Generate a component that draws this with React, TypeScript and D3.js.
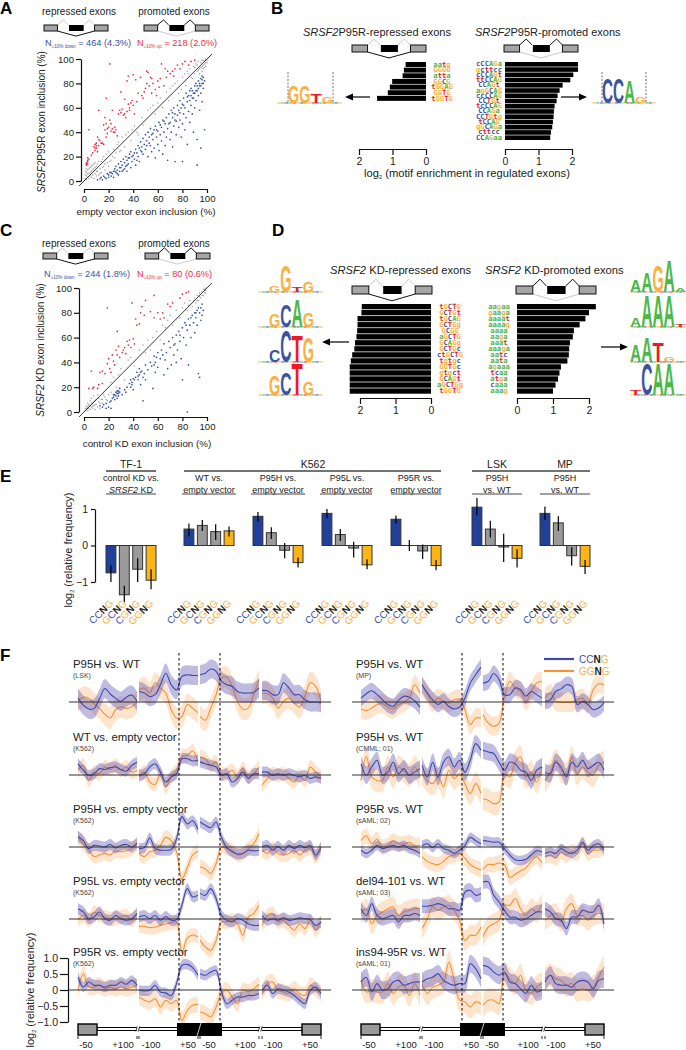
import React, { useEffect, useRef } from 'react';
import * as d3 from 'd3';

const FONT = '"Liberation Sans", Arial, sans-serif';
const BLUE = '#3953a4';
const NAVY = '#21409a';
const AMBER = '#fbb040';
const RED_TXT = '#ed1c24';
const GREEN = '#4cb848';

// ---- panel A scatter, [empty vector %, P95R %]
const aRed = [[2,13],[2,15],[3,14],[3,17],[3,19],[4,18],[4,42],[6,21],[7,23],[8,28],[9,25],[9,30],[10,31],[10,27],[11,24],[12,34],[11,36],[12,29],[13,33],[15,31],[16,30],[16,46],[17,42],[17,52],[18,36],[18,47],[19,39],[20,44],[21,50],[22,47],[23,58],[23,43],[24,40],[25,44],[26,42],[27,37],[12,58],[21,96],[28,55],[30,56],[31,59],[32,54],[33,67],[34,52],[35,57],[36,63],[37,58],[38,64],[39,66],[40,62],[41,55],[43,65],[35,82],[36,86],[40,87],[42,83],[46,85],[47,70],[48,68],[49,73],[50,76],[51,90],[52,89],[53,78],[54,85],[55,72],[56,80],[58,75],[60,82],[61,77],[62,84],[63,96],[65,78],[67,85],[68,90],[70,88],[72,90],[74,92],[78,92],[80,96],[82,98],[85,95],[87,98],[90,99],[30,73],[18,68],[2,14],[3,16],[9,27],[10,29],[14,31],[19,43],[22,41],[25,40],[29,58],[33,55],[37,60],[44,72],[51,80],[55,84],[59,70],[66,92],[73,86],[76,95]];
const aBlue = [[11,1],[13,2],[14,3],[15,1],[16,4],[17,3],[18,2],[19,6],[20,5],[20,3],[21,7],[22,4],[23,6],[24,3],[24,8],[25,10],[26,7],[26,12],[27,9],[28,14],[28,5],[29,8],[30,11],[30,16],[31,13],[32,9],[32,18],[33,15],[34,12],[34,20],[35,17],[35,8],[36,14],[37,22],[37,19],[38,11],[38,24],[39,16],[40,21],[41,18],[42,26],[42,13],[43,23],[44,29],[44,20],[45,16],[46,25],[46,32],[47,28],[48,22],[48,35],[49,30],[50,26],[50,38],[51,33],[52,20],[52,40],[53,36],[54,29],[54,43],[55,24],[55,38],[56,34],[57,42],[57,27],[58,45],[58,19],[59,36],[60,41],[60,30],[61,48],[61,25],[62,38],[63,44],[63,33],[64,50],[64,22],[65,40],[66,47],[66,29],[67,52],[67,36],[68,43],[68,17],[69,55],[70,48],[70,34],[71,40],[71,58],[72,52],[72,28],[73,45],[73,60],[74,55],[74,16],[75,49],[75,38],[76,62],[76,54],[77,44],[77,58],[78,66],[78,50],[79,36],[79,60],[80,63],[80,16],[80,47],[81,55],[81,68],[82,60],[82,42],[83,72],[83,52],[84,65],[84,30],[85,70],[85,57],[86,74],[86,48],[87,62],[87,76],[88,68],[88,55],[89,72],[89,40],[90,78],[90,60],[91,66],[91,80],[92,74],[92,34],[92,13],[93,70],[93,82],[94,78],[94,58],[95,84],[95,72],[95,27],[96,80],[96,65],[97,85],[97,76],[98,82],[98,42],[96,86],[22,7],[25,8],[27,6],[29,11],[31,8],[33,10],[35,13],[36,19],[39,20],[41,23],[43,17],[45,27],[47,24],[51,29],[53,31],[56,39],[59,42],[62,46],[65,49],[69,47],[72,56],[74,50],[78,56],[81,62],[84,69],[86,66],[88,74],[90,72],[92,78],[94,80],[95,78],[96,83],[97,80],[93,76],[91,74],[89,68],[87,70]];
const aGrey = [[1,2],[1,5],[2,1],[2,4],[2,7],[3,3],[3,9],[4,2],[4,6],[5,4],[5,11],[6,3],[6,8],[7,5],[7,13],[8,2],[8,10],[9,6],[9,15],[10,4],[10,12],[11,8],[12,5],[12,16],[13,10],[14,7],[15,18],[16,12],[17,9],[18,22],[19,15],[20,12],[22,17],[24,26],[25,19],[27,30],[29,24],[31,36],[33,28],[36,40],[38,33],[41,45],[44,38],[47,52],[52,58],[56,62],[60,64],[64,60],[67,73],[70,76],[74,80],[77,72],[80,85],[83,78],[84,90],[86,92],[88,84],[89,94],[90,88],[91,96],[92,90],[93,98],[94,92],[95,97],[96,94],[97,99],[97,92],[98,96],[98,98],[99,97],[99,100],[99,94],[100,99],[94,88],[96,90],[1,8],[2,10],[3,6],[4,10],[5,7],[6,12],[7,9],[8,14],[9,11],[10,8],[11,14],[13,6],[14,16],[15,11],[16,20],[17,14],[20,24],[21,16],[23,20],[26,23],[28,32],[30,25],[34,38],[39,42],[43,40],[48,46],[54,60],[58,55],[62,68],[69,66],[72,78],[76,82],[79,75],[82,88],[85,88],[87,85],[90,93],[92,95],[93,91],[95,93],[96,99],[97,95],[98,93],[99,99],[100,97]];

// ---- panel C scatter, [control KD %, SRSF2 KD %]
const cRed = [[4,19],[6,33],[7,19],[8,20],[11,19],[12,22],[13,32],[15,33],[15,23],[17,31],[19,84],[19,39],[20,43],[21,35],[22,32],[23,46],[24,41],[25,38],[26,50],[27,65],[27,46],[28,53],[29,44],[31,48],[32,50],[33,52],[34,47],[35,57],[36,54],[37,58],[38,52],[39,88],[40,59],[41,55],[42,75],[43,70],[45,71],[46,80],[47,85],[49,78],[50,90],[54,81],[57,94],[57,76],[60,80],[62,75],[64,80],[65,76],[68,87],[70,85],[72,88],[78,92],[80,95],[83,96],[85,97]];
const cBlue = [[13,5],[15,4],[16,6],[18,3],[18,7],[20,4],[21,8],[22,9],[22,3],[23,11],[24,12],[25,10],[25,14],[26,13],[27,15],[27,11],[28,17],[28,13],[29,16],[29,19],[31,14],[33,18],[34,16],[35,20],[37,23],[38,20],[38,26],[39,24],[40,18],[40,27],[42,28],[43,32],[44,26],[45,35],[45,30],[46,22],[47,33],[48,9],[49,31],[50,38],[50,26],[52,34],[54,40],[55,37],[56,19],[57,45],[58,32],[58,40],[60,48],[60,36],[62,43],[63,50],[65,30],[65,55],[66,42],[67,48],[68,35],[69,57],[70,52],[71,38],[72,60],[73,46],[74,55],[75,40],[75,62],[76,50],[77,65],[78,57],[79,43],[80,68],[80,26],[81,60],[82,72],[83,54],[84,0],[84,66],[85,75],[85,38],[86,70],[87,60],[88,78],[89,72],[90,80],[90,64],[91,76],[92,82],[92,70],[93,31],[94,80],[94,28],[95,84],[95,74],[96,87],[96,78],[97,82],[24,14],[26,16],[27,17],[28,15],[39,22],[41,26],[44,29],[46,32],[48,28],[57,38],[59,44],[64,46],[73,54],[78,62],[83,70],[87,76],[91,80],[93,84]];
const cGrey = [[1,1],[1,3],[2,2],[2,5],[3,1],[3,4],[3,7],[4,3],[4,6],[5,2],[5,9],[6,4],[6,11],[7,3],[7,7],[8,5],[8,13],[9,2],[9,9],[10,6],[11,4],[11,14],[12,8],[13,3],[14,10],[15,7],[17,12],[19,9],[22,16],[24,28],[26,20],[30,35],[33,26],[36,42],[41,37],[45,50],[50,48],[52,58],[56,60],[59,65],[62,58],[64,70],[68,74],[72,70],[75,82],[78,76],[82,88],[84,82],[86,90],[88,85],[90,92],[91,88],[92,94],[93,90],[94,96],[95,92],[96,97],[97,94],[97,99],[98,96],[99,98],[99,100],[2,3],[3,3],[4,5],[5,5],[6,7],[7,5],[8,8],[9,6],[10,10],[12,11],[13,7],[15,10],[16,14],[18,10],[20,14],[22,24],[28,30],[38,44],[48,54],[54,50],[66,68],[70,78],[80,84],[85,86],[89,90],[92,90],[94,93],[96,94],[98,99],[99,96]];

// ---- motif enrichment bars
const bRepMotifs = ['aatg','GGGG','atta','GGCG','tGGAG','GGTG','tGGTG'];
const bRepVals = [0.61,0.66,0.7,1.01,1.08,1.14,1.46];
const bProMotifs = ['cCCAGa','gcttcc','cCCAGt','ttCCAG','CCAGt','agGCAG','ccCCAG','CCTGt','tcCCAG','CCAGa','CCTGtg','tCCAG','gGCAGa','cttcc','CCAGaa'];
const bProVals = [2.18,2.18,2.04,1.95,1.72,1.63,1.57,1.54,1.48,1.46,1.45,1.43,1.41,1.37,1.35];
const dRepMotifs = ['tGCTG','GCTGt','tGCAG','GCTGg','GCGG','aGCTG','GCAGg','GCTGc','ctGCTG','tgtgc','GGTGc','gtgct','GCAGt','aGCTGg','tGGTG'];
const dRepVals = [1.95,1.96,2.07,2.07,2.08,2.1,2.14,2.16,2.22,2.26,2.29,2.29,2.29,2.29,2.29];
const dProMotifs = ['aagaa','gaaga','aaaat','aaaag','aaaa','aaga','aaat','aaaga','aatc','aata','agaaa','tcaa','atga','caaa','aaag'];
const dProVals = [2.19,2.0,1.9,1.74,1.58,1.55,1.47,1.45,1.44,1.4,1.22,1.18,1.14,1.07,1.0];

// ---- sequence logos: [letter, height in px]
const logoBRep = [['G',17],['G',17],['T',9],['G',6]];
const logoBPro = [['C',25],['C',25],['A',22],['G',6]];
const logosDRep = [
  [['G',7],['G',26],['T',5],['G',10]],
  [['G',13],['C',23],['A',28],['G',15]],
  [['C',12],['C',32],['T',27],['G',25]],
  [['G',20],['C',23],['T',32],['G',13]],
];
const logosDPro = [
  [['A',12],['A',20],['G',27],['A',32],['A',4]],
  [['A',9],['A',32],['A',32],['A',32],['T',3]],
  [['A',17],['A',25],['T',20],['G',5],['A',1]],
  [['T',5],['C',32],['A',32],['A',32],['A',1]],
];
const flankLetters = 'gacatgcagtcatgacg';

// ---- panel E bars
const eLabels = ['CCNG','GCNG','CGNG','GGNG'];
const tf1Vals = [-0.75,-1.35,-0.65,-0.95];
const tf1Err = [[-0.55,-1.0],[-1.1,-1.55],[-0.35,-1.0],[-0.65,-1.2]];
const wtVals = [0.45,0.55,0.38,0.4];
const wtErr = [[0.25,0.6],[0.4,0.7],[0.15,0.58],[0.25,0.52]];
const p95hVals = [0.8,0.35,-0.13,-0.47];
const p95hErr = [[0.65,0.92],[0.18,0.5],[0.07,-0.35],[-0.33,-0.6]];
const p95lVals = [0.88,0.3,-0.07,-0.53];
const p95lErr = [[0.75,1.0],[0.12,0.45],[0.1,-0.33],[-0.38,-0.65]];
const p95rVals = [0.72,0.0,-0.15,-0.55];
const p95rErr = [[0.82,0.6],[0.15,-0.15],[0.03,-0.37],[-0.4,-0.68]];
const lskVals = [1.05,0.45,-0.04,-0.35];
const lskErr = [[1.3,0.83],[0.68,0.22],[0.32,-0.45],[-0.1,-0.6]];
const mpVals = [0.88,0.62,-0.28,-0.57];
const mpErr = [[1.07,0.7],[0.8,0.4],[-0.05,-0.55],[-0.4,-0.78]];

// ---- panel F traces, 12 readings per segment, 4 segments
const f1C = [.12,-.1,-.22,-.2,.1,.42,.25,.12,.02,.15,.22,.02, .33,.28,.17,.23,.54,.9,.54,.38,.8,.85,.83,.83, .85,.9,1.03,.96,.65,.54,.49,.33,.28,.28,.3,.44, .36,.35,.23,.23,.6,.44,.23,.23,.07,0,0,-.03];
const f1G = [.02,.15,.12,-.05,-.2,-.38,-.5,-.25,-.15,-.2,-.15,-.02, .38,.44,.28,.6,.44,.28,-.24,-.5,-.45,-.08,-.19,-.34, -.45,-.57,-.19,.23,.75,.77,.49,.02,-.22,-.19,.23,.7, .28,.26,.12,-.19,.02,.12,-.03,-.16,.18,.6,.49,.02];
const f2C = [.35,.15,-.01,.04,.2,.17,.23,.25,.17,.12,.3,.4, -.01,.04,.25,.35,.09,-.22,-.06,.04,.51,.51,.44,.46, .41,.35,.3,.25,-.01,.04,-.22,-.11,.09,-.11,.04,.04, .09,.09,-.01,.04,-.01,.04,-.01,-.06,-.01,-.11,-.06,-.11];
const f2G = [.15,.3,-.17,.09,.04,.25,.17,.3,.15,.25,.09,.15, -.06,.09,-.22,-.29,.04,-.37,-.06,.15,.58,.61,.75,.41, .56,.51,.3,.41,.04,.04,.15,-.06,.2,-.06,.04,.25, -.32,-.11,.04,-.01,.04,-.11,-.22,-.01,-.17,.25,.09,-.06];
const f3C = [.33,.2,-.05,.05,.03,0,.08,-.03,.05,.08,0,.12, -.05,-.02,.28,-.05,-.1,-.1,-.08,.25,.95,.72,.82,.55, .78,.68,.6,.78,.3,-.02,-.15,-.22,-.2,-.1,-.12,-.1, 0,.05,-.1,.02,-.1,.05,-.05,.05,-.02,.05,-.25,0];
const f3G = [.3,.1,-.1,-.3,-.25,-.2,-.25,-.12,-.15,-.12,-.05,.1, -.2,-.3,-.15,-.1,.05,.3,.2,-.15,-1.0,-.65,-.25,-.13, -.62,-.68,-.83,-.52,0,-.05,-.1,-.25,-.2,-.05,.1,.42, -.1,-.2,-.05,-.2,-.25,-.2,-.1,-.25,-.1,-.05,-.3,-.05];
const f4C = [.32,.22,.01,.06,.22,.01,-.04,.11,.01,-.04,.01,.17, .06,.11,.01,.11,-.04,.08,-.04,-.02,.43,.95,.69,.74, .8,.74,.95,.64,.11,-.04,-.09,.01,-.04,-.15,-.2,-.2, .11,-.04,.01,-.04,.04,-.04,-.02,.04,.01,-.02,-.2,-.09];
const f4G = [-.02,.11,-.04,.22,.11,.06,.01,.01,.06,.11,-.04,.17, -.23,-.23,-.27,-.25,-.2,-.15,-.12,-.1,-1.05,-.6,-.5,-.56, -.67,-.87,-.98,-.67,-.09,-.09,-.04,-.15,-.51,.06,.17,.43, -.2,.11,.17,-.09,-.04,-.2,-.35,-.15,-.3,-.04,-.35,-.09];
const f5C = [.4,.09,.25,.15,.15,.09,.15,.15,.25,.18,.3,.15, -.01,-.03,-.01,.15,-.06,-.09,-.17,.2,.77,.8,.7,.46, .51,.46,.56,.61,-.06,-.43,-.32,-.22,-.22,-.17,-.17,-.11, -.01,.15,-.11,.04,-.01,-.06,-.17,-.32,-.43,-.01,.09,-.11];
const f5G = [-.01,.51,.09,.09,.15,.04,.09,.04,.09,.04,.09,.15, -.22,-.32,-.37,-.27,-.53,-.32,-.43,-.32,-.95,-.64,-.48,-.45, -.69,-.74,-.84,-.53,-.11,-.01,-.22,-.43,-.01,-.06,.04,.18, -.11,.2,.25,-.01,-.06,-.11,.04,-.11,-.17,.15,.04,-.11];
const f6C = [.12,.26,.35,.23,.07,-.08,-.14,.05,.18,.15,.04,-.16, .54,.28,.07,-.08,.02,-.14,-.22,-.16,.12,.59,.85,1.09, .59,.65,.89,.7,.23,.23,.44,.39,.18,.33,.23,.12, .02,.07,.33,.41,.54,.49,-.08,.02,-.08,-.24,-.19,-.03];
const f6G = [-.22,-.27,-.19,-.08,-.05,-.16,-.22,-.08,-.01,.12,.54,.28, .54,.23,-.01,.12,.02,-.03,.07,.09,-.24,-.71,-.5,-.5, -.4,-.66,-.76,-.66,.18,.65,.44,.33,.02,.33,.59,.65, .12,.28,.02,-.01,-.01,-.01,.07,.12,-.08,.39,.57,.54];
const f7C = [.35,-.01,.25,.46,-.01,.09,.4,.04,.2,-.01,.09,.2, .3,-.06,.4,-.06,.4,.56,.25,.46,.09,.46,.98,.77, .77,.72,.67,.4,.15,.4,.35,.15,.09,-.17,.15,.25, .09,.04,.4,.25,-.06,.4,.25,.46,.2,.3,.4,.15];
const f7G = [-.17,.58,-.06,-.17,-.17,.25,-.06,.25,.12,-.01,.25,-.06, .04,-.17,-.27,-.06,-.37,.15,-.11,.04,-.27,-.58,-.27,-.58, -.74,-.79,-.9,-.84,.04,-.06,.4,.56,-.06,.09,-.22,.25, -.17,.09,.46,.15,.04,.56,.04,.25,.09,-.01,.3,.4];
const f8C = [-.1,-.2,-.1,.05,-.05,0,.05,0,.05,-.05,-.1,-.2, .05,.1,-.02,.1,-.05,-.1,-.2,-.1,.05,.3,.2,.1, .2,.18,.15,.15,-.05,-.25,-.4,-.42,-.38,-.25,-.12,-.15, -.2,-.15,-.2,-.05,-.15,-.2,-.1,.15,-.1,.05,.1,-.1];
const f8G = [.2,.35,.1,.25,0,.05,.2,.1,.1,.15,.05,.05, -.3,-.45,-.52,-.55,-.45,-.3,-.25,-.2,-.35,-.55,-.65,-.72, -.7,-.55,-.55,-.5,-.55,-.95,-.85,-.75,-.65,-.45,-.3,-.5, -.3,-.25,-.35,-.15,-.25,-.15,-.2,.1,-.2,-.1,-.1,0];
const f9C = [.32,.11,.48,.11,.01,.06,.11,-.09,.11,.11,.17,.11, .4,.4,.43,.48,.43,.32,.32,.27,.84,.9,.74,.79, 1.16,1.16,.74,.53,.27,.06,.06,-.04,.01,.11,.22,.22, .32,.22,.01,-.04,-.3,.06,.06,.27,.22,.22,.43,-.15];
const f9G = [.17,.32,-.15,.11,.22,.32,.38,.11,.22,.27,.32,.32, -.3,.01,.38,.27,.38,.43,.27,-.04,-.67,-.51,-.51,-.25, -.56,-.25,-.15,-.04,.43,.43,.64,.32,.11,.32,.22,.48, -.04,.11,.17,-.09,.32,.48,.11,.11,-.04,.11,.17,.17];
const f10C = [.25,.4,-.06,.2,-.01,.04,.25,.3,.15,.2,.25,.25, .25,.35,.4,.51,.3,.2,.15,.2,.2,.82,.67,.35, .77,.72,.56,.46,.56,.25,.2,.04,-.11,.15,-.06,-.01, .25,.46,.2,.15,.15,.09,.25,.3,.25,.04,.3,.35];
const f10G = [.3,-.06,-.01,-.06,-.06,.2,-.11,.09,.15,-.17,.2,-.17, .2,-.11,.09,.15,.25,.87,.3,-.32,-.37,-.53,-.37,-.43, -.48,-.32,-.32,-.43,.51,.35,.2,.46,-.01,-.11,.09,.2, .35,.46,.35,.3,.15,.2,-.01,.04,-.01,.09,.4,.72];

const fTitles = ['P95H vs. WT','WT vs. empty vector','P95H vs. empty vector','P95L vs. empty vector','P95R vs. empty vector','P95H vs. WT','P95H vs. WT','P95R vs. WT','del94-101 vs. WT','ins94-95R vs. WT'];
const fSubs = ['(LSK)','(K562)','(K562)','(K562)','(K562)','(MP)','(CMML; 01)','(sAML; 02)','(sAML; 03)','(sAML; 01)'];
const fCcng = [f1C,f2C,f3C,f4C,f5C,f6C,f7C,f8C,f9C,f10C];
const fGgng = [f1G,f2G,f3G,f4G,f5G,f6G,f7G,f8G,f9G,f10G];
const fCcngBand = [.3,.17,.17,.17,.16,.25,.27,.15,.22,.28];
const fGgngBand = [.34,.22,.22,.22,.25,.3,.36,.24,.32,.36];
const fTicks = ['-50','+100','-100','+50','-50','+100','-100','+50'];
const fYTicks = [-1,-0.5,0,0.5,1];

const letterColor = (c: string) => {
  const u = c.toUpperCase();
  if (u === 'A') return GREEN;
  if (u === 'C') return BLUE;
  if (u === 'G') return AMBER;
  return RED_TXT;
};

type Part = { t: string; italic?: boolean; fill?: string; sub?: boolean; bold?: boolean };

// text with mixed styling, subscripts are done with dy on the tspans
const rich = (g: any, x: number, y: number, parts: Part[], size: number, anchor = 'start', rotate = 0, fill = '#222') => {
  const txt = g.append('text')
    .attr('text-anchor', anchor).attr('font-size', size).attr('font-family', FONT).attr('fill', fill);
  if (rotate) txt.attr('transform', `translate(${x},${y}) rotate(${rotate})`);
  else txt.attr('x', x).attr('y', y);
  let shift = 0;
  parts.forEach((p) => {
    const want = p.sub ? 2 : 0;
    const span = txt.append('tspan').text(p.t).attr('dy', want - shift);
    shift = want;
    if (p.italic) span.attr('font-style', 'italic');
    if (p.bold) span.attr('font-weight', 'bold');
    if (p.fill) span.attr('fill', p.fill);
    if (p.sub) span.attr('font-size', size * 0.5);
  });
  return txt;
};

const exonDiagram = (g: any, x: number, y: number, w: number, h: number, promoted: boolean) => {
  const sx = d3.scaleLinear().domain([0, 1]).range([x, x + w]);
  const top = d3.line()([[sx(0.21), y], [sx(0.3), y - h * 0.85], [sx(0.38), y]]);
  const top2 = d3.line()([[sx(0.62), y], [sx(0.71), y - h * 0.85], [sx(0.79), y]]);
  const bottom = d3.line()([[sx(0.21), y + h], [sx(0.5), y + h * 1.85], [sx(0.79), y + h]]);
  const upColor = promoted ? '#111' : '#ccc';
  const lowColor = promoted ? '#ccc' : '#111';
  [top, top2].forEach((d) => g.append('path').attr('d', d).attr('fill', 'none').attr('stroke', upColor).attr('stroke-width', 1));
  g.append('path').attr('d', bottom).attr('fill', 'none').attr('stroke', lowColor).attr('stroke-width', 1);
  g.append('rect').attr('x', sx(0)).attr('y', y).attr('width', sx(0.21) - sx(0)).attr('height', h).attr('fill', '#a6a6a6').attr('stroke', '#111').attr('stroke-width', 1);
  g.append('rect').attr('x', sx(0.79)).attr('y', y).attr('width', sx(1) - sx(0.79)).attr('height', h).attr('fill', '#a6a6a6').attr('stroke', '#111').attr('stroke-width', 1);
  g.append('rect').attr('x', sx(0.39)).attr('y', y).attr('width', sx(0.62) - sx(0.39)).attr('height', h).attr('fill', '#000');
};

const arrow = (g: any, x0: number, x1: number, y: number) => {
  const dir = x1 > x0 ? 1 : -1;
  g.append('line').attr('x1', x0).attr('x2', x1 - dir * 6).attr('y1', y).attr('y2', y).attr('stroke', '#000').attr('stroke-width', 1.2);
  g.append('path').attr('d', `M${x1},${y}L${x1 - dir * 8},${y - 3.5}L${x1 - dir * 8},${y + 3.5}Z`).attr('fill', '#000');
};

const LETTER_W: any = { A: 7.2, C: 7.2, G: 7.8, T: 6.1 };

const logo = (g: any, letters: any[], x0: number, x1: number, base: number, flankL: number, flankR: number) => {
  // low-information positions along the baseline, just coloured flecks
  const strip = flankLetters.split('');
  const flank = d3.scaleBand<number>().domain(d3.range(strip.length)).range([flankL, flankR]).padding(0.1);
  strip.forEach((c, i) => {
    g.append('rect').attr('x', flank(i)).attr('y', base - 1).attr('width', flank.bandwidth()).attr('height', 1.8)
      .attr('fill', letterColor(c)).attr('opacity', 0.55);
  });
  const sx = d3.scaleBand<number>().domain(d3.range(letters.length)).range([x0, x1]);
  letters.forEach(([c, h]: [string, number], i: number) => {
    const w = sx.bandwidth();
    g.append('text').text(c)
      .attr('transform', `translate(${(sx(i) as number) + w / 2},${base}) scale(${w / LETTER_W[c]},${h / 7.2})`)
      .attr('text-anchor', 'middle').attr('font-size', 10).attr('font-family', FONT)
      .attr('font-weight', 'bold').attr('fill', letterColor(c));
  });
};

const styleAxis = (ax: any, size = 10) => {
  ax.select('.domain').attr('stroke', '#111').attr('stroke-width', 1.2);
  ax.selectAll('.tick line').attr('stroke', '#111').attr('stroke-width', 1.2);
  ax.selectAll('.tick text').attr('font-size', size).attr('font-family', FONT).attr('fill', '#222');
};

const scatter = (g: any, x0: number, x1: number, y0: number, y1: number, axisX: number, axisY: number,
  red: number[][], blue: number[][], grey: number[][]) => {
  const sx = d3.scaleLinear().domain([0, 100]).range([x0, x1]);
  const sy = d3.scaleLinear().domain([0, 100]).range([y0, y1]);
  const series: [number[][], string, number][] = [[grey, '#a0a0a0', 0.75], [blue, '#3953a4', 0.85], [red, '#ee2c3c', 0.85]];
  series.forEach(([pts, color, r]) => {
    g.append('g').selectAll('circle').data(pts).enter().append('circle')
      .attr('cx', (d: number[]) => sx(d[0])).attr('cy', (d: number[]) => sy(d[1]))
      .attr('r', r).attr('fill', color);
  });
  g.append('line').attr('x1', sx(-4)).attr('y1', sy(-4)).attr('x2', sx(104)).attr('y2', sy(104))
    .attr('stroke', '#222').attr('stroke-width', 0.9);
  const ax = g.append('g').attr('transform', `translate(0,${axisY})`)
    .call(d3.axisBottom(sx).tickValues([0, 20, 40, 60, 80, 100]).tickSize(4).tickSizeOuter(0).tickPadding(2));
  styleAxis(ax, 9.6);
  const ay = g.append('g').attr('transform', `translate(${axisX},0)`)
    .call(d3.axisLeft(sy).tickValues([0, 20, 40, 60, 80, 100]).tickSize(5).tickSizeOuter(0).tickPadding(2));
  styleAxis(ay, 9.6);
};

// horizontal enrichment bars, bars grow away from the zero position
const motifBars = (g: any, vals: number[], motifs: string[], zero: number, two: number, yTop: number, step: number,
  motifX: number, axisY: number, fontSize = 7.2) => {
  const sx = d3.scaleLinear().domain([0, 2]).range([zero, two]);
  const sy = d3.scaleBand<number>().domain(d3.range(vals.length))
    .range([yTop, yTop + step * vals.length]).paddingInner(0.12);
  g.append('g').selectAll('rect').data(vals).enter().append('rect')
    .attr('x', (d: number) => Math.min(sx(0), sx(d)))
    .attr('y', (_: number, i: number) => sy(i))
    .attr('width', (d: number) => Math.abs(sx(d) - sx(0)))
    .attr('height', sy.bandwidth()).attr('fill', '#000');
  motifs.forEach((m, i) => {
    const t = g.append('text').attr('x', motifX).attr('y', (sy(i) as number) + sy.bandwidth() - 0.3)
      .attr('text-anchor', 'middle').attr('font-size', fontSize)
      .attr('font-family', '"DejaVu Sans Mono", monospace').attr('font-weight', 'bold');
    m.split('').forEach((c) => t.append('tspan').text(c).attr('fill', letterColor(c)));
  });
  const ax = g.append('g').attr('transform', `translate(0,${axisY})`)
    .call(d3.axisBottom(sx).tickValues([0, 1, 2]).tickFormat(d3.format('d') as any).tickSize(6).tickSizeOuter(0).tickPadding(3));
  styleAxis(ax, 10.5);
};

const ePanels: [number, number[], number[][]][] = [
  [106, tf1Vals, tf1Err], [184, wtVals, wtErr], [253, p95hVals, p95hErr], [322, p95lVals, p95lErr],
  [391, p95rVals, p95rErr], [472, lskVals, lskErr], [540, mpVals, mpErr],
];

const panelE = (g: any) => {
  const sy = d3.scaleLinear().domain([-1, 1]).range([582, 509]);
  const ay = g.append('g').attr('transform', 'translate(95,0)')
    .call(d3.axisLeft(sy).tickValues([-1, 0, 1]).tickFormat(d3.format('d') as any).tickSize(4).tickSizeOuter(0).tickPadding(3));
  styleAxis(ay, 10.5);
  const barColors = [NAVY, '#9a9a9a', '#9a9a9a', '#fdb515'];
  ePanels.forEach(([x0, vals, errs]) => {
    const sx = d3.scaleBand<number>().domain([0, 1, 2, 3]).range([x0, x0 + 50]).paddingInner(0.26);
    const grp = g.append('g');
    grp.selectAll('rect').data(vals).enter().append('rect')
      .attr('x', (_: number, i: number) => sx(i))
      .attr('y', (d: number) => Math.min(sy(d), sy(0)))
      .attr('width', sx.bandwidth())
      .attr('height', (d: number) => Math.abs(sy(d) - sy(0)))
      .attr('fill', (_: number, i: number) => barColors[i])
      .attr('stroke', '#333').attr('stroke-width', 1);
    grp.append('line').attr('x1', x0).attr('x2', x0 + 50).attr('y1', sy(0)).attr('y2', sy(0)).attr('stroke', '#333').attr('stroke-width', 1);
    errs.forEach((e, i) => {
      const cx = (sx(i) as number) + sx.bandwidth() / 2;
      grp.append('line').attr('x1', cx).attr('x2', cx).attr('y1', sy(e[0])).attr('y2', sy(e[1])).attr('stroke', '#000').attr('stroke-width', 1.2);
    });
    eLabels.forEach((lab, i) => {
      const cx = (sx(i) as number) + sx.bandwidth() / 2 + 3;
      const parts = lab.split('').map((c) => (c === 'N' ? { t: c, fill: '#222', bold: true } : { t: c, fill: c === 'C' ? BLUE : AMBER }));
      rich(grp, cx, 604, parts, 10, 'end', -45);
    });
  });
  const head = (cx: number, txt: string, x0: number, x1: number) => {
    rich(g, cx, 468, [{ t: txt }], 10.5, 'middle');
    g.append('line').attr('x1', x0).attr('x2', x1).attr('y1', 471).attr('y2', 471).attr('stroke', '#444').attr('stroke-width', 1.3);
  };
  head(131, 'TF-1', 106, 156);
  head(313, 'K562', 184, 441);
  head(497, 'LSK', 472, 522);
  head(565, 'MP', 522, 590);
  const sub = (cx: number, a: Part[], b: string | Part[], x0: number, x1: number) => {
    rich(g, cx, 481, a, 9, 'middle');
    rich(g, cx, 492.5, typeof b === 'string' ? [{ t: b }] : b, 9, 'middle');
    g.append('line').attr('x1', x0).attr('x2', x1).attr('y1', 494).attr('y2', 494).attr('stroke', '#444').attr('stroke-width', 1);
  };
  sub(131, [{ t: 'control KD vs.' }], [{ t: 'SRSF2', italic: true }, { t: ' KD' }], 106, 156);
  sub(209, [{ t: 'WT vs.' }], 'empty vector', 182, 236);
  sub(278, [{ t: 'P95H vs.' }], 'empty vector', 251, 305);
  sub(347, [{ t: 'P95L vs.' }], 'empty vector', 320, 372);
  sub(416, [{ t: 'P95R vs.' }], 'empty vector', 391, 441);
  sub(497, [{ t: 'P95H' }], 'vs. WT', 472, 522);
  sub(565, [{ t: 'P95H' }], 'vs. WT', 540, 590);
  rich(g, 72, 550, [{ t: 'log' }, { t: '2', sub: true }, { t: ' (relative frequency)' }], 11, 'middle', -90);
};

const geneModel = (g: any, segs: number[][], dashA: number, dashB: number) => {
  const l = segs[0][0];
  const r = segs[3][1];
  const top = 1024;
  const h = 11;
  g.append('rect').attr('x', l + 19).attr('y', top + 3.5).attr('width', r - l - 38).attr('height', 3).attr('fill', '#fff').attr('stroke', '#000').attr('stroke-width', 1);
  g.append('rect').attr('x', l).attr('y', top).attr('width', 19).attr('height', h).attr('fill', '#999').attr('stroke', '#000').attr('stroke-width', 1.4);
  g.append('rect').attr('x', r - 19).attr('y', top).attr('width', 19).attr('height', h).attr('fill', '#999').attr('stroke', '#000').attr('stroke-width', 1.4);
  g.append('rect').attr('x', dashA - 1).attr('y', top - 1).attr('width', dashB - dashA + 2).attr('height', h + 2).attr('fill', '#000');
  // breaks in the exon and the two introns
  const mid = (segs[1][1] + segs[2][0]) / 2;
  g.append('line').attr('x1', mid - 2).attr('x2', mid + 2).attr('y1', top + h + 1).attr('y2', top - 1).attr('stroke', '#ddd').attr('stroke-width', 0.9);
  [(segs[0][1] + segs[1][0]) / 2, (segs[2][1] + segs[3][0]) / 2].forEach((m) => {
    g.append('rect').attr('x', m - 1.5).attr('y', top + 2).attr('width', 3).attr('height', 6).attr('fill', '#fff');
    [-1.5, 1].forEach((o) => g.append('line').attr('x1', m + o - 0.7).attr('x2', m + o + 0.7).attr('y1', top + 7.5).attr('y2', top + 2.5).attr('stroke', '#000').attr('stroke-width', 0.8));
  });
  // ticks and labels
  segs.forEach((s) => {
    s.forEach((x) => g.append('line').attr('x1', x).attr('x2', x).attr('y1', top + h + 1).attr('y2', top + h + 4).attr('stroke', '#111').attr('stroke-width', 0.9));
  });
  const tickCenters = [segs[0][0] + 8, segs[0][1] - 14, segs[1][0] + 12, segs[1][1] - 10, segs[2][0] + 9, segs[2][1] - 14, segs[3][0] + 11, segs[3][1] - 11];
  tickCenters.forEach((c, i) => rich(g, c, 1048, [{ t: fTicks[i] }], 9.5, 'middle'));
};

const tracePanel = (g: any, segs: number[][], base: number, idx: number, titleX: number) => {
  const sy = d3.scaleLinear().domain([-1, 1]).range([base + 32, base - 32]);
  const bandW = [fGgngBand[idx], fCcngBand[idx]];
  const traces = [fGgng[idx], fCcng[idx]];
  const bandFill = ['rgba(250,170,100,0.32)', 'rgba(95,85,180,0.4)'];
  const lineFill = ['#f4923a', '#3f4aa8'];
  traces.forEach((vals, t) => {
    segs.forEach((s, k) => {
      const part = vals.slice(k * 12, k * 12 + 12);
      const sx = d3.scalePoint<number>().domain(d3.range(12)).range(s);
      const area = d3.area<number>()
        .x((_, i) => sx(i) as number)
        .y0((d) => sy(d - bandW[t])).y1((d) => sy(d + bandW[t]))
        .curve(d3.curveCatmullRom.alpha(0.5));
      const line = d3.line<number>()
        .x((_, i) => sx(i) as number).y((d) => sy(d))
        .curve(d3.curveCatmullRom.alpha(0.5));
      g.append('path').attr('d', area(part)).attr('fill', bandFill[t]);
      g.append('path').attr('d', line(part)).attr('fill', 'none').attr('stroke', lineFill[t]).attr('stroke-width', 1.1);
    });
  });
  g.append('line').attr('x1', segs[0][0] - 9).attr('x2', segs[3][1] + 10).attr('y1', base).attr('y2', base)
    .attr('stroke', '#333').attr('stroke-width', 1.1);
  rich(g, titleX, base - 34, [{ t: fTitles[idx] }], 11.4);
  rich(g, titleX, base - 24, [{ t: fSubs[idx] }], 7, 'start', 0, '#444');
};

const leftSegs = [[78, 137], [139, 198], [200, 259], [262, 321]];
const rightSegs = [[361, 420], [422, 481], [483, 542], [545, 604]];
const fBases = [702, 775, 847, 919, 990];

const panelF = (g: any) => {
  fBases.forEach((b, i) => tracePanel(g, leftSegs, b, i, 73));
  fBases.forEach((b, i) => tracePanel(g, rightSegs, b, i + 5, 356));
  [179, 220, 462, 503].forEach((x) => {
    g.append('line').attr('x1', x).attr('x2', x).attr('y1', 653).attr('y2', 1023)
      .attr('stroke', '#000').attr('stroke-width', 1).attr('stroke-dasharray', '2.5,2.5');
  });
  geneModel(g, leftSegs, 178, 221);
  geneModel(g, rightSegs, 461, 504);
  const sy = d3.scaleLinear().domain([-1, 1]).range([1022, 958]);
  const ay = g.append('g').attr('transform', 'translate(68,0)')
    .call(d3.axisLeft(sy).tickValues(fYTicks).tickFormat((d: any) => (d === 0 ? '0' : d3.format('.1f')(d))).tickSize(8).tickSizeOuter(0).tickPadding(2));
  styleAxis(ay, 10.5);
  rich(g, 34, 990, [{ t: 'log' }, { t: '2', sub: true }, { t: ' (relative frequency)' }], 11, 'middle', -90);
  // legend
  g.append('line').attr('x1', 544).attr('x2', 574).attr('y1', 659).attr('y2', 659).attr('stroke', '#3f4aa8').attr('stroke-width', 2.2);
  g.append('line').attr('x1', 544).attr('x2', 574).attr('y1', 671).attr('y2', 671).attr('stroke', '#f4923a').attr('stroke-width', 2.2);
  [['CCNG', 663], ['GGNG', 675]].forEach(([lab, y]) => {
    const parts = (lab as string).split('').map((c) => (c === 'N' ? { t: c, fill: '#222', bold: true } : { t: c, fill: c === 'C' ? BLUE : AMBER }));
    rich(g, 579, y as number, parts, 10);
  });
};

const App = () => {
  const svgRef = useRef<SVGSVGElement>(null);

  useEffect(() => {
    const svg = d3.select(svgRef.current);
    svg.selectAll('*').remove();
    const g: any = svg.append('g');

    const letter = (t: string, x: number, y: number) =>
      g.append('text').text(t).attr('x', x).attr('y', y).attr('font-size', 17)
        .attr('font-weight', 'bold').attr('font-family', FONT).attr('fill', '#000');
    letter('A', 0, 14); letter('B', 271, 14); letter('C', 0, 236);
    letter('D', 272, 236); letter('E', 0, 482); letter('F', 0, 661);

    // A
    rich(g, 79, 15, [{ t: 'repressed exons' }], 10, 'middle');
    rich(g, 174, 15, [{ t: 'promoted exons' }], 10, 'middle');
    exonDiagram(g, 44, 25, 64, 6, false);
    exonDiagram(g, 144, 25, 65, 6, true);
    rich(g, 45, 46, [{ t: 'N' }, { t: '≥10% down', sub: true }, { t: ' = 464 (4.3%)' }], 9.2, 'start', 0, BLUE);
    rich(g, 137, 46, [{ t: 'N' }, { t: '≥10% up', sub: true }, { t: ' = 218 (2.0%)' }], 9.2, 'start', 0, '#ed2e3e');
    scatter(g, 84, 207, 181, 59, 81, 189, aRed, aBlue, aGrey);
    rich(g, 45, 122, [{ t: 'SRSF2', italic: true }, { t: 'P95R exon inclusion (%)' }], 10, 'middle', -90);
    rich(g, 146, 215, [{ t: 'empty vector exon inclusion (%)' }], 9.8, 'middle');

    // B
    rich(g, 303, 36, [{ t: 'SRSF2', italic: true }, { t: 'P95R-repressed exons' }], 11);
    rich(g, 475, 36, [{ t: 'SRSF2', italic: true }, { t: 'P95R-promoted exons' }], 11);
    exonDiagram(g, 352, 45, 74, 7, false);
    exonDiagram(g, 504, 45, 74, 7, true);
    motifBars(g, bRepVals, bRepMotifs, 426, 359, 62, 5.55, 442, 149);
    motifBars(g, bProVals, bProMotifs, 505, 572, 62, 5.2, 489, 149);
    rich(g, 467, 177, [{ t: 'log' }, { t: '2', sub: true }, { t: ' (motif enrichment in regulated exons)' }], 11.2, 'middle');
    logo(g, logoBRep, 288, 333, 103, 277, 342);
    logo(g, logoBPro, 602, 646, 103, 592, 656);
    [288, 333, 602, 646].forEach((x) => g.append('line').attr('x1', x).attr('x2', x).attr('y1', 72).attr('y2', 103)
      .attr('stroke', '#333').attr('stroke-width', 0.7).attr('stroke-dasharray', '2,1.5'));
    arrow(g, 370, 345, 97);
    arrow(g, 561, 587, 97);

    // C
    rich(g, 79, 247, [{ t: 'repressed exons' }], 10, 'middle');
    rich(g, 174, 247, [{ t: 'promoted exons' }], 10, 'middle');
    exonDiagram(g, 43, 253, 65, 6, false);
    exonDiagram(g, 145, 253, 65, 6, true);
    rich(g, 44, 277, [{ t: 'N' }, { t: '≥10% down', sub: true }, { t: ' = 244 (1.8%)' }], 9.2, 'start', 0, BLUE);
    rich(g, 137, 277, [{ t: 'N' }, { t: '≥10% up', sub: true }, { t: ' = 80 (0.6%)' }], 9.2, 'start', 0, '#ed2e3e');
    scatter(g, 84, 207, 412, 288, 79, 417, cRed, cBlue, cGrey);
    rich(g, 44, 350, [{ t: 'SRSF2', italic: true }, { t: ' KD exon inclusion (%)' }], 10, 'middle', -90);
    rich(g, 147, 447, [{ t: 'control KD exon inclusion (%)' }], 9.8, 'middle');

    // D
    rich(g, 330, 274, [{ t: 'SRSF2', italic: true }, { t: ' KD-repressed exons' }], 11.2);
    rich(g, 485, 274, [{ t: 'SRSF2', italic: true }, { t: ' KD-promoted exons' }], 11.2);
    exonDiagram(g, 352, 286, 80, 8, false);
    exonDiagram(g, 516, 286, 80, 8, true);
    motifBars(g, dRepVals, dRepMotifs, 431, 360, 304, 5.98, 450, 398);
    motifBars(g, dProVals, dProMotifs, 517, 589, 304, 5.98, 499, 398);
    const dBases = [292, 327, 362, 395];
    logosDRep.forEach((l, i) => logo(g, l, 269, 314, dBases[i], 258, 323));
    logosDPro.forEach((l, i) => logo(g, l, 630, 686, dBases[i], 630, 686));
    arrow(g, 349, 322, 342);
    arrow(g, 601, 628, 347);

    panelE(g);
    panelF(g);
  }, []);

  return (
    <svg ref={svgRef} width={686} height={1050} style={{ position: 'absolute', left: 0, top: 0, background: '#fff' }} />
  );
};

export default App;
